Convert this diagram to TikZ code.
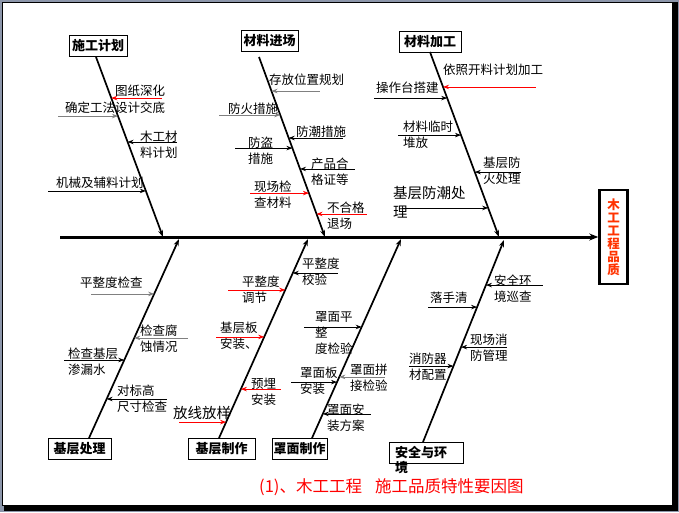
\documentclass[tikz,border=0pt]{standalone}
\usepackage{fontspec}
\newfontfamily\cjk{Noto Sans CJK SC}
\usepackage{tikz}
\usetikzlibrary{arrows.meta, calc}
\definecolor{framegray}{RGB}{140,150,170}
\definecolor{effectred}{RGB}{255,51,0}

\begin{document}
\begin{tikzpicture}[x=1pt, y=-1pt,
	every node/.style={font=\cjk\fontsize{12.5}{16}\selectfont, inner sep=0pt},
	note/.style={anchor=west, align=left},
	bignote/.style={note, font=\cjk\fontsize{14.5}{19}\selectfont},
	catbox/.style={draw, line width=1pt, font=\cjk\bfseries\fontsize{13}{15}\selectfont, minimum height=21pt},
	bone/.style={-{Stealth[length=7pt,width=5pt]}, line width=1.7pt},
	sub/.style={{Stealth[length=6pt,width=4.5pt]}-, line width=0.8pt},
	redsub/.style={sub, red},
	graysub/.style={sub, gray}]
	
	\useasboundingbox (0,0) rectangle (679,512);
	
	% slide frame with its shadow
	\fill[framegray] (0,0) rectangle (679,512);
	\fill[black] (4,2) rectangle (678,511);
	\filldraw[fill=white, draw=black, line width=0.8pt] (2.5,2.5) rectangle (672.5,505.5);
	
	% effect box and the spine
	\node[draw, line width=2.5pt, minimum width=28pt, minimum height=94pt, text=effectred,
		font=\cjk\bfseries\fontsize{12.5}{13}\selectfont, align=center] (effect) at (613.5,237)
		{木\\工\\工\\程\\品\\质};
	\coordinate (tail) at (60,237);
	\draw[line width=3pt, -{Stealth[length=9pt,width=7pt]}] (tail) -- (effect.west);
	
	% the seven causes
	\node[catbox, minimum width=58pt] (plan) at (98,45.5) {施工计划};
	\node[catbox, minimum width=57pt] (inmat) at (269.5,41) {材料进场};
	\node[catbox, minimum width=62pt] (proc) at (430,41.5) {材料加工};
	\node[catbox, minimum width=63pt] (base) at (79.5,449) {基层处理};
	\node[catbox, minimum width=67pt] (make) at (221.5,448.5) {基层制作};
	\node[catbox, minimum width=55pt] (cover) at (299.5,448.5) {罩面制作};
	\node[catbox, minimum width=74pt] (safe) at (426,452.5) {};
	\node[anchor=north west, align=left, font=\cjk\bfseries\fontsize{13}{15}\selectfont] (safetxt) at (395,446) {安全与环\\境};
	
	% bone ends
	\coordinate (b1s) at (96,57);   \coordinate (b1e) at (163,237);
	\coordinate (b2s) at (259,57);  \coordinate (b2e) at (325,237);
	\coordinate (b3s) at (430,52);  \coordinate (b3e) at (499,237);
	\coordinate (b4s) at (89,438);  \coordinate (b4e) at (179,239);
	\coordinate (b5s) at (219,438); \coordinate (b5e) at (308,239);
	\coordinate (b6s) at (312,438); \coordinate (b6e) at (401,239);
	\coordinate (b7s) at (423,442); \coordinate (b7e) at (504,240);
	\foreach \b in {1,...,7}
		\draw[bone] (b\b s) -- (b\b e);
	
	% 施工计划
	\node[note] (n11) at (115,91) {图纸深化};
	\node[note] (n12) at (65,108) {确定工法设计交底};
	\node[note] (n13) at (140,145) {木工材\\料计划};
	\node[note] (n14) at (56,183) {机械及辅料计划};
	\draw[redsub] ($(b1s)!0.228!(b1e)$) -- ++(51,0);
	\draw[graysub] ($(b1s)!0.328!(b1e)$) -- ++(-60,0);
	\foreach \t/\l in {0.472/49, 0.744/-98}
		\draw[sub] ($(b1s)!\t!(b1e)$) -- ++(\l,0);
	
	% 材料进场
	\node[note] (n21) at (269,80) {存放位置规划};
	\node[note] (n22) at (228,109) {防火措施};
	\node[note] (n23) at (296,132) {防潮措施};
	\node[note] (n24) at (248,150.5) {防盗\\措施};
	\node[note] (n25) at (311,172) {产品合\\格证等};
	\node[note] (n26) at (254,195) {现场检\\查材料};
	\node[note] (n27) at (327,215.5) {不合格\\退场};
	\foreach \t/\l in {0.189/49, 0.322/-61}
		\draw[graysub] ($(b2s)!\t!(b2e)$) -- ++(\l,0);
	\foreach \t/\l in {0.45/54, 0.506/-57, 0.622/55}
		\draw[sub] ($(b2s)!\t!(b2e)$) -- ++(\l,0);
	\foreach \t/\l in {0.756/-59, 0.872/50}
		\draw[redsub] ($(b2s)!\t!(b2e)$) -- ++(\l,0);
	
	% 材料加工
	\node[note] (n31) at (443,70) {依照开料计划加工};
	\node[note] (n32) at (376,88) {操作台搭建};
	\node[note] (n33) at (403,134.5) {材料临时\\堆放};
	\node[note] (n34) at (483,170.5) {基层防\\火处理};
	\node[bignote] (n35) at (393,202.5) {基层防潮处\\理};
	\draw[redsub] ($(b3s)!0.189!(b3e)$) -- ++(93,0);
	\foreach \t/\l in {0.249/-73, 0.449/-63, 0.649/46, 0.843/-86}
		\draw[sub] ($(b3s)!\t!(b3e)$) -- ++(\l,0);
	
	% 基层处理
	\node[note] (n41) at (80,283) {平整度检查};
	\node[note] (n42) at (140,338.5) {检查腐\\蚀情况};
	\node[note] (n43) at (68,362) {检查基层\\渗漏水};
	\node[note] (n44) at (117,399) {对标高\\尺寸检查};
	\foreach \t/\l in {0.724/-63, 0.503/54}
		\draw[graysub] ($(b4s)!\t!(b4e)$) -- ++(\l,0);
	\foreach \t/\l in {0.392/-60, 0.196/60}
		\draw[sub] ($(b4s)!\t!(b4e)$) -- ++(\l,0);
	
	% 基层制作
	\node[note] (n51) at (242,289.5) {平整度\\调节};
	\node[note] (n52) at (302,272) {平整度\\校验};
	\node[note] (n53) at (220,336) {基层板\\安装、};
	\node[note] (n54) at (251,391.5) {预埋\\安装};
	\node[bignote] (n55) at (173,413) {放线放样};
	\draw[sub] ($(b5s)!0.829!(b5e)$) -- ++(45,0);
	\foreach \t/\l in {0.744/-57, 0.508/-48, 0.246/40, 0.080/-47}
		\draw[redsub] ($(b5s)!\t!(b5e)$) -- ++(\l,0);
	
	% 罩面制作
	\node[note] (n61) at (315,333) {罩面平\\整\\度检验};
	\node[note] (n62) at (300,381) {罩面板\\安装};
	\node[note] (n63) at (350,378) {罩面拼\\接检验};
	\node[note] (n64) at (327,418) {罩面安\\装方案};
	\draw[graysub] ($(b6s)!0.307!(b6e)$) -- ++(46,0);
	\foreach \t/\l in {0.558/-58, 0.281/-46, 0.121/48}
		\draw[sub] ($(b6s)!\t!(b6e)$) -- ++(\l,0);
	
	% 安全与环境
	\node[note] (n71) at (494,289) {安全环\\境巡查};
	\node[note] (n72) at (430,298) {落手清};
	\node[note] (n73) at (470,348) {现场消\\防管理};
	\node[note] (n74) at (409,367) {消防器\\材配置};
	\foreach \t/\l in {0.777/57, 0.668/-49, 0.470/46, 0.376/-44}
		\draw[sub] ($(b7s)!\t!(b7e)$) -- ++(\l,0);
	
	% caption
	\node[anchor=west, text=red, font=\cjk\fontsize{16.5}{17}\selectfont] (title) at (259,487)
		{(1)、木工工程\hspace{13pt}施工品质特性要因图};
\end{tikzpicture}
\end{document}
